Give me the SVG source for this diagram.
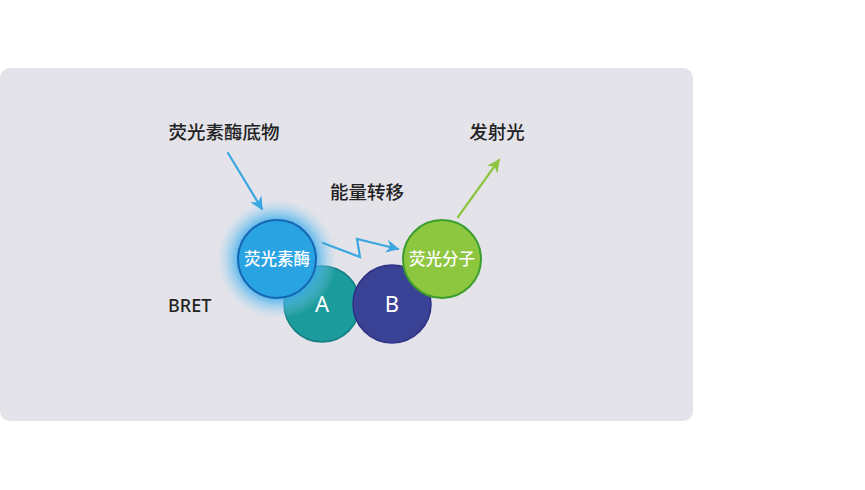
<svg xmlns="http://www.w3.org/2000/svg" width="865" height="490" viewBox="0 0 865 490">
<style>
.lbl{font-family:"Noto Sans CJK SC","Noto Sans",sans-serif;font-size:18.5px;font-weight:500;fill:#222;text-anchor:middle}
.in{font-family:"Noto Sans CJK SC","Noto Sans",sans-serif;font-size:16.5px;font-weight:500;fill:#fff;text-anchor:middle}
.big{font-family:"Noto Sans","Liberation Sans",sans-serif;font-size:22px;fill:#fff;text-anchor:middle}
.con{fill:none;stroke-width:2.2;stroke-linecap:round;stroke-linejoin:miter}
</style>
<defs>
<radialGradient id="glow" cx="0.5" cy="0.5" r="0.5">
<stop offset="0.6" stop-color="#2aa4ea" stop-opacity="0.9"/>
<stop offset="0.78" stop-color="#5cbcf0" stop-opacity="0.5"/>
<stop offset="1" stop-color="#9ed6f5" stop-opacity="0"/>
</radialGradient>
<marker id="ab" viewBox="0 0 10 10" refX="9" refY="5" markerWidth="6" markerHeight="6" orient="auto" markerUnits="strokeWidth">
<path d="M0,0 L10,5 L0,10 L3,5 Z" fill="#3aa7e0"/>
</marker>
<marker id="ag" viewBox="0 0 10 10" refX="9" refY="5" markerWidth="6" markerHeight="6" orient="auto" markerUnits="strokeWidth">
<path d="M0,0 L10,5 L0,10 L3,5 Z" fill="#8cc63f"/>
</marker>
</defs>
<rect x="0" y="68" width="693" height="353" rx="10" fill="#e4e3e9"/>
<g id="labels">
<text class="lbl" x="224" y="139">荧光素酶底物</text>
<text class="lbl" x="497" y="139">发射光</text>
<text class="lbl" x="367" y="199">能量转移</text>
<text x="168" y="312" style="font-family:'Noto Sans','Liberation Sans',sans-serif;font-size:18px;font-weight:500;fill:#222">BRET</text>
</g>
<g id="node-A">
<circle cx="322" cy="304" r="38" fill="#1c9b9c" stroke="#147e82" stroke-width="1.5"/>
<text class="big" x="322" y="312">A</text>
</g>
<g id="node-B">
<circle cx="392" cy="304" r="39" fill="#3a4296" stroke="#2b3084" stroke-width="1.5"/>
<text class="big" x="392" y="312">B</text>
</g>
<g id="node-luciferase">
<circle cx="277" cy="259" r="60" fill="url(#glow)"/>
<circle cx="277" cy="259" r="39" fill="#2aa3e3" stroke="#1567b3" stroke-width="2"/>
<text class="in" x="277" y="265">荧光素酶</text>
</g>
<g id="node-fluor">
<circle cx="442" cy="259" r="39" fill="#8dc63f" stroke="#3c9e2e" stroke-width="2"/>
<text class="in" x="442" y="265">荧光分子</text>
</g>
<g id="connectors">
<path class="con" d="M228,153 L262,209" stroke="#3aa7e0" marker-end="url(#ab)"/>
<path class="con" d="M323,243 L360,257 L357,239 L398,249" stroke="#3aa7e0" marker-end="url(#ab)"/>
<path class="con" d="M458,217 L499,160" stroke="#8cc63f" marker-end="url(#ag)"/>
</g>
</svg>
